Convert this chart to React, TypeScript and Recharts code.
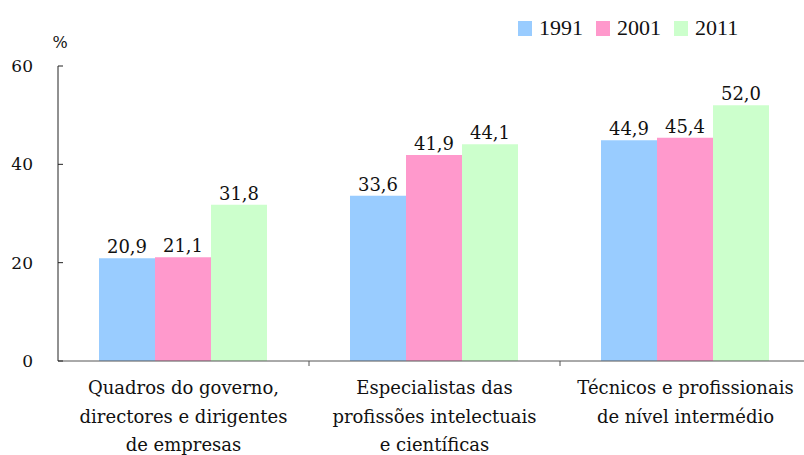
import { BarChart, Bar, XAxis, YAxis, LabelList } from 'recharts'

const categories = [
  ['Quadros do governo,', 'directores e dirigentes', 'de empresas'],
  ['Especialistas das', 'profissões intelectuais', 'e científicas'],
  ['Técnicos e profissionais', 'de nível intermédio'],
]
const years = ['1991', '2001', '2011']
const values1991 = [20.9, 33.6, 44.9]
const values2001 = [21.1, 41.9, 45.4]
const values2011 = [31.8, 44.1, 52.0]
const colors = ['#99CCFF', '#FF99CC', '#CCFFCC']
const yTicks = [0, 20, 40, 60]

const data = categories.map((lines, i) => ({
  name: lines.join('\n'),
  y1991: values1991[i],
  y2001: values2001[i],
  y2011: values2011[i],
}))

const SVG_FONT = 'DejaVu Serif'
const W = 804
const H = 455
const M = { top: 66, right: -7, bottom: 0, left: 8 }
const Y_W = 50
const BAND = (W - M.left - M.right - Y_W) / categories.length

const fmt = (v: any) => Number(v).toFixed(1).replace('.', ',')

function CategoryTick(props: any) {
  const { x, y, payload } = props
  const lines = String(payload.value).split('\n')
  return (
    <g>
      <line x1={x + BAND / 2} x2={x + BAND / 2} y1={y - 8} y2={y - 3} stroke="#555" strokeWidth={1} />
      <text x={x} y={y + 25} textAnchor="middle" fontFamily={SVG_FONT} fontSize={18} fill="#111">
        {lines.map((l, i) => (
          <tspan key={i} x={x} dy={i === 0 ? 0 : 28.5}>{l}</tspan>
        ))}
      </text>
    </g>
  )
}

export default function App() {
  return (
    <div style={{ position: 'absolute', left: 0, top: 0, width: W, height: H, background: '#fff' }}>
      <BarChart width={W} height={H} data={data} margin={M} barCategoryGap={41} barGap={0}>
        <XAxis
          dataKey="name"
          height={94}
          axisLine={{ stroke: '#555' }}
          tickLine={false}
          interval={0}
          tick={<CategoryTick />}
        />
        <YAxis
          width={Y_W}
          domain={[0, 60]}
          ticks={yTicks}
          axisLine={{ stroke: '#222' }}
          tickLine={{ stroke: '#222' }}
          tickSize={-5}
          tickMargin={30}
          tick={{ fontSize: 17, fill: '#111', fontFamily: SVG_FONT }}
          label={{ value: '%', position: 'top', offset: 18, dx: 27, fontSize: 16, fill: '#111', fontFamily: SVG_FONT }}
        />
        <Bar dataKey="y1991" name="1991" fill={colors[0]} isAnimationActive={false}>
          <LabelList dataKey="y1991" position="top" offset={5} formatter={fmt} fontSize={18} fill="#111" fontFamily={SVG_FONT} />
        </Bar>
        <Bar dataKey="y2001" name="2001" fill={colors[1]} isAnimationActive={false}>
          <LabelList dataKey="y2001" position="top" offset={5} formatter={fmt} fontSize={18} fill="#111" fontFamily={SVG_FONT} />
        </Bar>
        <Bar dataKey="y2011" name="2011" fill={colors[2]} isAnimationActive={false}>
          <LabelList dataKey="y2011" position="top" offset={5} formatter={fmt} fontSize={18} fill="#111" fontFamily={SVG_FONT} />
        </Bar>
      </BarChart>
      <div style={{ position: 'absolute', left: 518, top: 15, display: 'flex', alignItems: 'center', fontFamily: 'Liberation Serif', fontSize: 22, color: '#111', lineHeight: '26px' }}>
        {years.map((yr, i) => (
          <span key={yr} style={{ display: 'flex', alignItems: 'center', marginRight: 13 }}>
            <span style={{ display: 'inline-block', width: 14, height: 15, background: colors[i], marginRight: 7 }} />
            {yr}
          </span>
        ))}
      </div>
    </div>
  )
}
